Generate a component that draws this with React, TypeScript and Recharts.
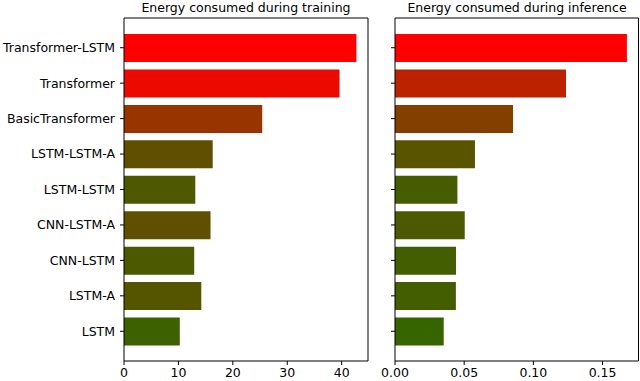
import React from "react";
import { BarChart, Bar, XAxis, YAxis, Cell } from "recharts";

const models = [
  "Transformer-LSTM",
  "Transformer",
  "BasicTransformer",
  "LSTM-LSTM-A",
  "LSTM-LSTM",
  "CNN-LSTM-A",
  "CNN-LSTM",
  "LSTM-A",
  "LSTM",
];
const trainingEnergy = [42.7, 39.6, 25.4, 16.3, 13.1, 15.9, 12.9, 14.2, 10.25];
const inferenceEnergy = [0.1676, 0.1236, 0.0853, 0.0578, 0.0451, 0.0504, 0.0441, 0.044, 0.0352];
const trainingTicks = [0, 10, 20, 30, 40];
const inferenceTicks = [0, 0.05, 0.1, 0.15];

const FONT = "'DejaVu Sans', sans-serif";
const FS = 12.5;

// red -> dark green depending on share of the max value
const barColor = (v: number, max: number) => {
  const f = v / max;
  return `rgb(${Math.round(255 * f)}, ${Math.round(127.5 * (1 - f))}, 0)`;
};

interface PanelProps {
  values: number[];
  ticks: number[];
  width: number;
  yWidth: number;
  right: number;
  showLabels: boolean;
  fmt: (v: number) => string;
}

function Panel({ values, ticks, width, yWidth, right, showLabels, fmt }: PanelProps) {
  const max = Math.max(...values);
  const domain = [0, max * 1.05];
  const data = models.map((m, i) => ({ model: m, value: values[i] }));
  const tickStyle = { fill: "#000", fontSize: FS, fontFamily: FONT };
  return (
    <BarChart
      width={width}
      height={381}
      layout="vertical"
      data={data}
      margin={{ top: 17, right, bottom: 0, left: 0 }}
    >
      <XAxis
        type="number"
        domain={domain}
        ticks={ticks}
        allowDataOverflow
        height={20}
        tick={tickStyle}
        tickFormatter={fmt}
        tickSize={4}
        tickMargin={3}
        stroke="#000"
        interval={0}
      />
      <XAxis
        xAxisId="top"
        orientation="top"
        type="number"
        domain={domain}
        height={1}
        tick={false}
        tickLine={false}
        stroke="#000"
      />
      <YAxis
        type="category"
        dataKey="model"
        width={yWidth}
        padding={{ top: 12, bottom: 12 }}
        tick={tickStyle}
        tickFormatter={(v: string) => (showLabels ? v : "")}
        tickSize={4}
        tickMargin={5}
        stroke="#000"
        interval={0}
      />
      <YAxis
        yAxisId="right"
        orientation="right"
        type="category"
        dataKey="model"
        width={1}
        tick={false}
        tickLine={false}
        stroke="#000"
      />
      <Bar dataKey="value" barSize={28} isAnimationActive={false}>
        {data.map((d) => (
          <Cell key={d.model} fill={barColor(d.value, max)} />
        ))}
      </Bar>
    </BarChart>
  );
}

const titleStyle: React.CSSProperties = {
  position: "absolute",
  top: 0,
  fontFamily: FONT,
  fontSize: FS,
  lineHeight: "normal",
  textAlign: "center",
  color: "#000",
  whiteSpace: "nowrap",
};

export default function App() {
  return (
    <div style={{ position: "absolute", left: 0, top: 0, width: 640, height: 381, background: "#fff" }}>
      <div style={{ ...titleStyle, left: 124, width: 244 }}>Energy consumed during training</div>
      <div style={{ ...titleStyle, left: 395, width: 244 }}>Energy consumed during inference</div>
      <div style={{ position: "absolute", left: 0, top: 0 }}>
        <Panel
          values={trainingEnergy}
          ticks={trainingTicks}
          width={370}
          yWidth={124}
          right={1}
          showLabels
          fmt={(v) => String(v)}
        />
      </div>
      <div style={{ position: "absolute", left: 380, top: 0 }}>
        <Panel
          values={inferenceEnergy}
          ticks={inferenceTicks}
          width={260}
          yWidth={15}
          right={0.5}
          showLabels={false}
          fmt={(v) => v.toFixed(2)}
        />
      </div>
    </div>
  );
}
